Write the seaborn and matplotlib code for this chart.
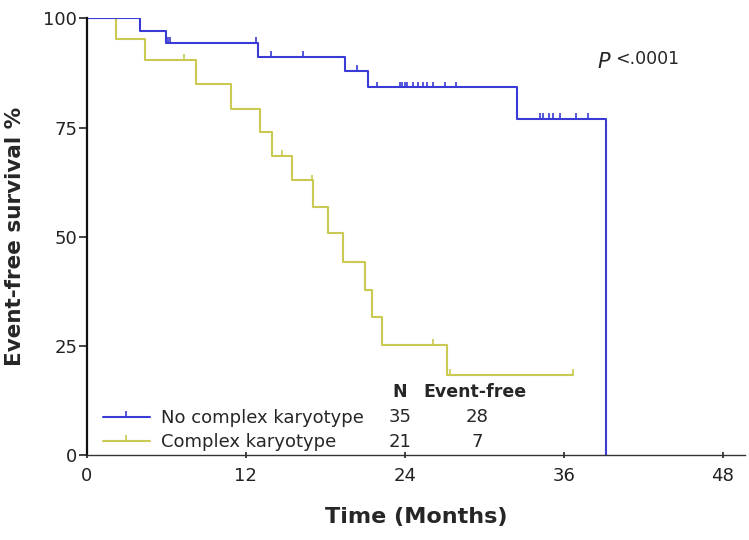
import numpy as np
import matplotlib
matplotlib.use("Agg")
import matplotlib.pyplot as plt
from matplotlib.lines import Line2D
from matplotlib.path import Path
import seaborn as sns

# Step curves (months, survival %)
blue_times = [0, 4.0, 6.0, 12.9, 19.5, 21.2, 32.5, 39.2]
blue_surv = [100, 97.1, 94.3, 91.2, 87.9, 84.2, 76.9, 0]
blue_censor = [6.1, 6.3, 12.8, 13.9, 16.3, 20.4, 21.9, 23.6, 23.8, 24.0, 24.2,
               24.6, 25.0, 25.4, 25.7, 26.1, 27.0, 27.9, 34.2, 34.4, 34.9, 35.2,
               35.7, 36.9, 37.8]

yellow_times = [0, 2.2, 4.4, 8.2, 10.9, 13.1, 14.0, 15.5, 17.1, 18.2, 19.3,
                21.0, 21.5, 22.3, 27.2, 36.7]
yellow_surv = [100, 95.2, 90.5, 85.0, 79.2, 74.1, 68.6, 62.9, 56.8, 50.8, 44.2,
               37.8, 31.6, 25.2, 18.3, 18.3]
yellow_censor = [7.3, 14.7, 17.0, 26.1, 27.4, 36.7]

groups = ["No complex karyotype", "Complex karyotype"]
n_total = [35, 21]
n_eventfree = [28, 7]
x_ticks = [0, 12, 24, 36, 48]
y_ticks = [0, 25, 50, 75, 100]

BLUE = "#3a3ad6"
YELLOW = "#caca52"

sns.set_theme(style="ticks")
plt.rcParams["font.family"] = ["DejaVu Sans"]

# censor tick: short vertical stroke rising from the curve
tick_marker = Path([(0, 0), (0, 1)], [Path.MOVETO, Path.LINETO])


def step_value(times, surv, t):
    idx = np.searchsorted(times, t, side="right") - 1
    return np.asarray(surv)[idx]


fig = plt.figure(figsize=(7.49, 5.40), dpi=100)
ax = fig.add_axes([0.116, 0.157, 0.879, 0.809])

# yellow first so the blue curve sits on top where they overlap at 100 %
for times, surv, cens, col in [(yellow_times, yellow_surv, yellow_censor, YELLOW),
                               (blue_times, blue_surv, blue_censor, BLUE)]:
    sns.lineplot(x=times, y=surv, ax=ax, color=col, lw=1.5,
                 drawstyle="steps-post", estimator=None, sort=False)
    cy = [step_value(times, surv, t) for t in cens]
    sns.scatterplot(x=cens, y=cy, ax=ax, marker=tick_marker, s=70,
                    edgecolor=col, facecolor="none", linewidth=1.2, zorder=3)

ax.set_xlim(0, 49.7)
ax.set_ylim(0, 100)
ax.set_xticks(x_ticks)
ax.set_yticks(y_ticks)
ax.tick_params(axis="both", labelsize=13, width=1.2, colors="#222222")
ax.tick_params(axis="y", direction="out", length=6, pad=1)
ax.tick_params(axis="x", direction="inout", length=5, pad=6)
for s in ["top", "right"]:
    ax.spines[s].set_visible(False)
ax.spines["left"].set_linewidth(1.6)
ax.spines["bottom"].set_linewidth(1.0)
ax.spines["left"].set_color("#111111")
ax.spines["bottom"].set_color("#333333")

ax.set_xlabel("Time (Months)", fontsize=16, fontweight="bold", labelpad=16)
ax.set_ylabel("Event-free survival %", fontsize=15.5, fontweight="bold",
              labelpad=13)

# P value
ax.text(0.775, 0.900, "P", transform=ax.transAxes, fontsize=15, style="italic",
        va="center", ha="left")
ax.annotate("<.0001", xy=(0.775, 0.904), xycoords="axes fraction",
            xytext=(13, 1), textcoords="offset points", fontsize=12.5,
            va="center", ha="left")

# legend with small table
handles = [Line2D([0], [0], color=c, lw=1.5, marker=tick_marker, markersize=9,
                  markeredgewidth=1.2) for c in [BLUE, YELLOW]]
ax.legend(handles, groups, loc="lower left", bbox_to_anchor=(0.024, 0.009),
          frameon=False, fontsize=13, handlelength=2.6, handletextpad=0.65,
          borderpad=0, borderaxespad=0, labelspacing=0.35, numpoints=1)

row_y = [0.087, 0.030]
ax.text(0.475, 0.144, "N", transform=ax.transAxes, fontsize=12.5,
        fontweight="bold", ha="center", va="center")
ax.text(0.590, 0.144, "Event-free", transform=ax.transAxes, fontsize=12.5,
        fontweight="bold", ha="center", va="center")
for yy, n, ef in zip(row_y, n_total, n_eventfree):
    ax.text(0.476, yy, str(n), transform=ax.transAxes, fontsize=13,
            ha="center", va="center")
    ax.text(0.593, yy, str(ef), transform=ax.transAxes, fontsize=13,
            ha="center", va="center")

fig.savefig("out.png", dpi=100)
